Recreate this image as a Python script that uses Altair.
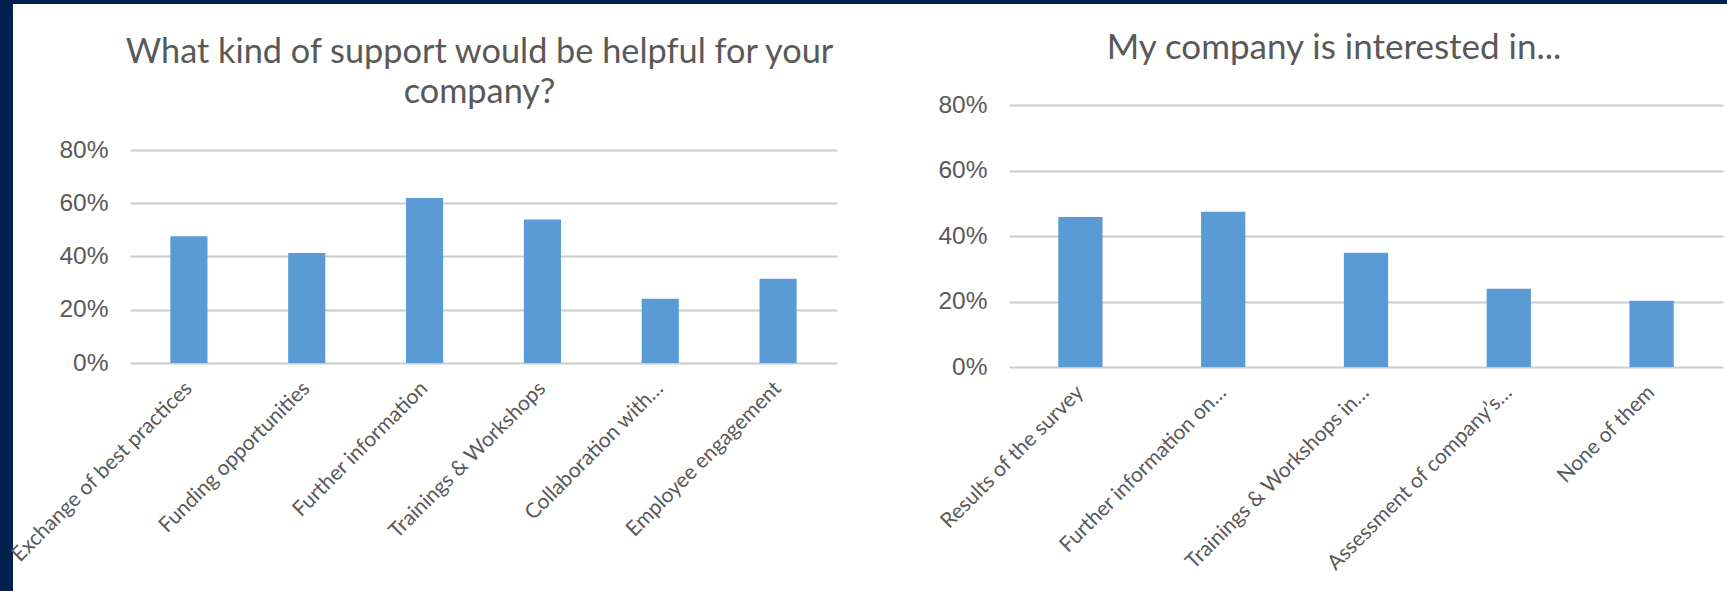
import altair as alt
import pandas as pd

# ---- data ----
support_labels = [
    "Exchange of best practices",
    "Funding opportunities",
    "Further information",
    "Trainings & Workshops",
    "Collaboration with…",
    "Employee engagement",
]
support_values = [0.476, 0.413, 0.620, 0.539, 0.241, 0.316]

interest_labels = [
    "Results of the survey",
    "Further information on…",
    "Trainings & Workshops in…",
    "Assessment of company’s…",
    "None of them",
]
interest_values = [0.458, 0.474, 0.349, 0.239, 0.202]

y_ticks = [0, 0.2, 0.4, 0.6, 0.8]

title_left = ["What kind of support would be helpful for your", "company?"]
title_right = "My company is interested in..."

NAVY = "#01214f"
BAR = "#5b9bd5"
TEXT = "#595959"
GRID = "#cccccc"

# ---- layout (pixels) ----
W_TOTAL, H_TOTAL = 1727, 591
STRIP_W, STRIP_H = 13, 4
PLOT_TOP = 105          # top of both plot areas
LEFT_X = 130            # left plot area starts here
GAP = 172               # gap between the two plot areas
LEFT_W, RIGHT_W = 707, 714
LEFT_ZERO, LEFT_80 = 363, 150
RIGHT_H = 262
LEFT_H = LEFT_ZERO - PLOT_TOP
LEFT_DMAX = 0.8 * LEFT_H / (LEFT_ZERO - LEFT_80)


def bar_chart(labels, values, title, title_size, title_dx, title_offset, w, h, dmax, pad):
    df = pd.DataFrame({"label": labels, "value": values})
    return (
        alt.Chart(df)
        .mark_bar(color=BAR)
        .encode(
            x=alt.X(
                "label:N",
                sort=labels,
                title=None,
                scale=alt.Scale(paddingInner=pad, paddingOuter=pad / 2),
                axis=alt.Axis(
                    labelAngle=-45,
                    labelAlign="right",
                    labelBaseline="middle",
                    labelFont="Lato",
                    labelFontSize=21,
                    labelColor=TEXT,
                    labelPadding=22,
                    labelLimit=0,
                    ticks=False,
                    domain=False,
                    grid=False,
                ),
            ),
            y=alt.Y(
                "value:Q",
                title=None,
                scale=alt.Scale(domain=[0, dmax], nice=False),
                axis=alt.Axis(
                    values=y_ticks,
                    format=".0%",
                    labelFont="Liberation Sans",
                    labelFontSize=24.5,
                    labelColor=TEXT,
                    labelPadding=22,
                    ticks=False,
                    domain=False,
                    gridColor=GRID,
                    gridWidth=2,
                ),
            ),
        )
        .properties(
            width=w,
            height=h,
            title=alt.TitleParams(
                text=title,
                font="Lato",
                fontSize=title_size,
                fontWeight="normal",
                color=TEXT,
                anchor="middle",
                dx=title_dx,
                lineHeight=40,
                offset=title_offset,
            ),
        )
    )


# decorative slide frame (navy strips at the left and top edges)
frame_df = pd.DataFrame({"v": [0]})
left_strip = alt.Chart(frame_df).mark_rect(color=NAVY).encode(
    x=alt.value(0), x2=alt.value(STRIP_W),
    y=alt.value(-PLOT_TOP), y2=alt.value(H_TOTAL - PLOT_TOP),
)
top_strip = alt.Chart(frame_df).mark_rect(color=NAVY).encode(
    x=alt.value(0), x2=alt.value(W_TOTAL),
    y=alt.value(-PLOT_TOP), y2=alt.value(-PLOT_TOP + STRIP_H),
)
deco = alt.layer(left_strip, top_strip).properties(width=STRIP_W, height=1)

left = bar_chart(support_labels, support_values, title_left, 34.3, -4, -5.5,
                 LEFT_W, LEFT_H, LEFT_DMAX, 0.685)
right = bar_chart(interest_labels, interest_values, title_right, 35, -32, 26,
                  RIGHT_W, RIGHT_H, 0.8, 0.69)

panels = alt.hconcat(left, right, spacing=GAP, bounds="flush")
chart = (
    alt.hconcat(deco, panels, spacing=LEFT_X - STRIP_W, bounds="flush")
    .properties(padding=0, background="white")
    .configure_view(strokeWidth=0)
)

chart.save("out.html", embed_options={"renderer": "svg", "actions": False})
